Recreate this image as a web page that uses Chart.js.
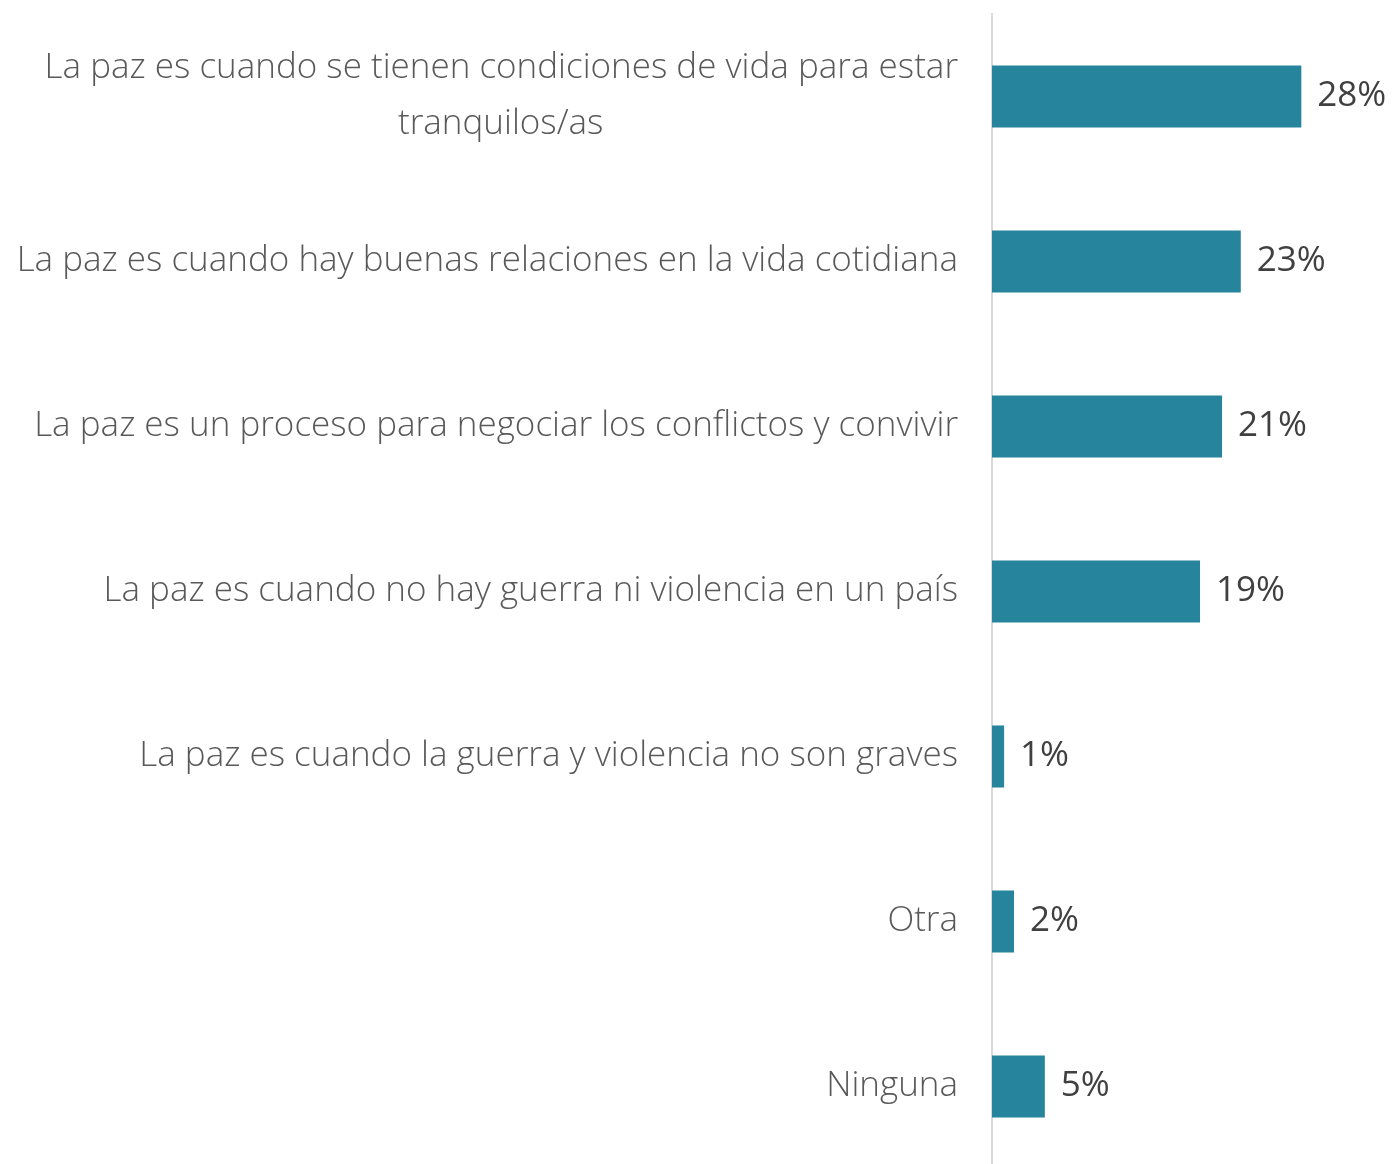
<!DOCTYPE html>
<html>
<head>
<meta charset="utf-8">
<script src="https://cdn.jsdelivr.net/npm/chart.js@4"></script>
<style>
  html, body { margin: 0; padding: 0; background: #fff; overflow: hidden; }
  #wrap { width: 1396px; height: 1169px; }
</style>
</head>
<body>
<div id="wrap"><canvas id="pazChart"></canvas></div>
<script>
// categories and values
const categories = [
  ['La paz es cuando se tienen condiciones de vida para estar', 'tranquilos/as'],
  'La paz es cuando hay buenas relaciones en la vida cotidiana',
  'La paz es un proceso para negociar los conflictos y convivir',
  'La paz es cuando no hay guerra ni violencia en un país',
  'La paz es cuando la guerra y violencia no son graves',
  'Otra',
  'Ninguna'
]
const values = [28.1, 22.6, 20.9, 18.9, 1.1, 2.0, 4.8]
const valueLabels = ['28%', '23%', '21%', '19%', '1%', '2%', '5%']

const labelFont = '"Open Sans", "Liberation Sans", sans-serif'

// center the second line of the wrapped label under the first one
function centerLines(ctx, lines) {
  ctx.font = '300 35px ' + labelFont
  const w0 = ctx.measureText(lines[0]).width
  const w1 = ctx.measureText(lines[1]).width
  const sp = ctx.measureText('\u00a0').width
  const n = Math.round((w0 - w1) / 2 / sp)
  return [lines[0], lines[1] + '\u00a0'.repeat(n)]
}

const canvas = document.getElementById('pazChart')
const tmp = canvas.getContext('2d')

const barLabels = {
  id: 'barLabels',
  afterDatasetsDraw(chart) {
    const ctx = chart.ctx
    const meta = chart.getDatasetMeta(0)
    ctx.save()
    ctx.font = '400 35px ' + labelFont
    ctx.fillStyle = '#404040'
    ctx.textAlign = 'left'
    ctx.textBaseline = 'middle'
    meta.data.forEach((bar, i) => {
      ctx.fillText(valueLabels[i], bar.x + 16, bar.y)
    })
    ctx.restore()
  }
}

document.fonts.load('300 35px "Open Sans"').then(() => {
  const labels = categories.map(c => Array.isArray(c) ? centerLines(tmp, c) : c)

  new Chart(canvas, {
    type: 'bar',
    data: {
      labels: labels,
      datasets: [{
        data: values,
        backgroundColor: '#26849c',
        borderWidth: 0,
        barPercentage: 0.376,
        categoryPercentage: 1
      }]
    },
    options: {
      indexAxis: 'y',
      responsive: true,
      maintainAspectRatio: false,
      animation: false,
      layout: { padding: { top: 14, right: 0, bottom: 0, left: 0 } },
      plugins: {
        legend: { display: false },
        tooltip: { enabled: false }
      },
      scales: {
        x: {
          display: false,
          min: 0,
          max: 36.7
        },
        y: {
          afterFit(scale) {
            scale.width = 992
            // labels may hang over the chart area, like in the original
            scale.paddingTop = 0
            scale.paddingBottom = 0
          },
          grid: { display: false },
          border: { display: true, color: '#d9d9d9', width: 2 },
          ticks: {
            padding: 26,
            color: '#595959',
            font: { family: labelFont, size: 35, weight: 300, lineHeight: 1.6 }
          }
        }
      }
    },
    plugins: [barLabels]
  })
})
</script>
</body>
</html>
